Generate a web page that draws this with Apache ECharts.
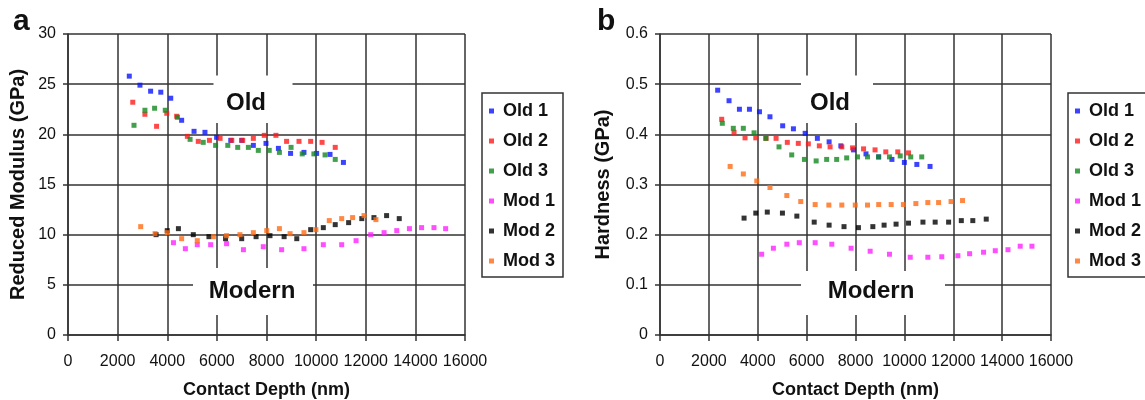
<!DOCTYPE html>
<html>
<head>
<meta charset="utf-8">
<script src="https://cdn.jsdelivr.net/npm/echarts@6/dist/echarts.min.js"></script>
<style>html,body{margin:0;padding:0;background:#fff}#c{width:1145px;height:400px}</style>
</head>
<body>
<div id="c"></div>
<script>
// ---- data (Contact depth in nm) ----
var seriesNames = ['Old 1', 'Old 2', 'Old 3', 'Mod 1', 'Mod 2', 'Mod 3'];
var xTicks = [0, 2000, 4000, 6000, 8000, 10000, 12000, 14000, 16000];

// panel a: reduced modulus (GPa)
var aOld1 = [[2470,25.8],[2900,24.9],[3330,24.3],[3740,24.2],[4140,23.6],[4580,21.4],[5080,20.3],[5520,20.2],[5990,19.7],[6560,19.4],[7000,19.4],[7470,18.9],[7980,19.1],[8480,18.6],[8970,18.1],[9510,18.2],[10020,18.1],[10560,18.0],[11100,17.2]];
var aOld2 = [[2610,23.2],[3100,22.0],[3570,20.8],[3980,22.1],[4380,21.8],[4810,19.8],[5250,19.3],[5700,19.4],[6130,19.6],[6600,19.4],[7040,19.4],[7470,19.6],[7910,19.9],[8380,19.9],[8810,19.3],[9310,19.3],[9780,19.3],[10240,19.2],[10770,18.7]];
var aOld3 = [[2660,20.9],[3100,22.4],[3490,22.6],[3920,22.4],[4410,21.7],[4920,19.5],[5450,19.2],[5950,18.9],[6440,18.9],[6840,18.7],[7270,18.7],[7670,18.4],[8110,18.4],[8520,18.2],[8990,18.7],[9440,18.05],[9910,18.05],[10360,17.95],[10770,17.5]];
var aMod1 = [[4250,9.2],[4730,8.6],[5210,9.0],[5750,9.0],[6390,9.1],[7070,8.5],[7870,8.8],[8610,8.5],[9510,8.6],[10290,9.0],[11030,9.0],[11610,9.4],[12200,10.0],[12740,10.2],[13250,10.4],[13760,10.6],[14250,10.7],[14750,10.7],[15220,10.6]];
var aMod2 = [[3550,10.0],[4000,10.4],[4450,10.6],[5050,10.0],[5680,9.8],[6350,9.6],[7000,9.6],[7580,9.8],[8140,9.9],[8710,9.8],[9220,9.6],[9780,10.5],[10290,10.7],[10770,11.0],[11310,11.2],[11840,11.6],[12330,11.7],[12840,11.9],[13350,11.6]];
var aMod3 = [[2930,10.8],[3510,10.1],[4000,10.2],[4580,9.6],[5210,9.4],[5860,9.8],[6390,9.9],[6930,10.0],[7470,10.2],[8010,10.4],[8520,10.6],[8950,10.1],[9510,10.2],[9990,10.5],[10530,11.4],[11030,11.6],[11470,11.7],[11930,11.9],[12410,11.5]];

// panel b: hardness (GPa)
var bOld1 = [[2360,0.488],[2825,0.467],[3250,0.450],[3660,0.450],[4070,0.445],[4500,0.435],[5020,0.417],[5460,0.411],[5940,0.402],[6440,0.392],[6920,0.385],[7400,0.377],[7920,0.369],[8430,0.361],[8950,0.355],[9490,0.350],[10000,0.344],[10510,0.340],[11050,0.336]];
var bOld2 = [[2525,0.430],[3030,0.404],[3480,0.393],[3920,0.393],[4340,0.392],[4750,0.392],[5210,0.384],[5660,0.382],[6070,0.381],[6520,0.377],[6960,0.375],[7440,0.375],[7880,0.373],[8330,0.371],[8800,0.369],[9240,0.365],[9730,0.365],[10170,0.363]];
var bOld3 = [[2550,0.422],[3000,0.412],[3410,0.412],[3850,0.403],[4330,0.392],[4870,0.375],[5390,0.359],[5910,0.350],[6390,0.347],[6820,0.350],[7230,0.350],[7640,0.353],[8080,0.355],[8490,0.355],[8940,0.355],[9390,0.355],[9830,0.357],[10260,0.355],[10710,0.355]];
var bMod1 = [[4160,0.161],[4640,0.173],[5190,0.181],[5700,0.184],[6350,0.184],[7030,0.181],[7820,0.173],[8600,0.167],[9390,0.161],[10240,0.155],[10960,0.155],[11530,0.156],[12190,0.158],[12670,0.162],[13240,0.165],[13720,0.168],[14240,0.170],[14740,0.177],[15220,0.177]];
var bMod2 = [[3440,0.233],[3920,0.243],[4390,0.245],[5010,0.243],[5600,0.237],[6310,0.225],[6920,0.219],[7530,0.216],[8120,0.214],[8710,0.216],[9170,0.219],[9660,0.221],[10170,0.223],[10760,0.225],[11260,0.225],[11810,0.225],[12330,0.228],[12800,0.228],[13350,0.231]];
var bMod3 = [[2870,0.336],[3410,0.321],[3960,0.307],[4500,0.294],[5190,0.278],[5760,0.266],[6350,0.260],[6910,0.259],[7440,0.259],[7990,0.259],[8490,0.259],[8950,0.260],[9460,0.260],[9960,0.260],[10470,0.262],[10960,0.264],[11400,0.264],[11910,0.266],[12380,0.268]];

var colors = ['#0a14ff', '#ff1a1a', '#13881f', '#ff22ff', '#000000', '#ff6a13'];
var panelA = [aOld1, aOld2, aOld3, aMod1, aMod2, aMod3];
var panelB = [bOld1, bOld2, bOld3, bMod1, bMod2, bMod3];

// ---- styling ----
var LINE = '#333';
var SANS = '"Liberation Sans", Arial, Helvetica, sans-serif';

function xAxis(idx) {
  return {
    gridIndex: idx, type: 'value', min: xTicks[0], max: xTicks[xTicks.length - 1], interval: xTicks[1] - xTicks[0],
    name: 'Contact Depth (nm)', nameLocation: 'middle', nameGap: 46,
    nameTextStyle: {fontFamily: SANS, fontWeight: 'bold', fontSize: 18, color: '#111'},
    axisLine: {show: true, onZero: false, lineStyle: {color: LINE, width: 1.5}},
    axisTick: {show: true, inside: false, length: 6, lineStyle: {color: LINE, width: 1.5}},
    splitLine: {show: true, lineStyle: {color: LINE, width: 1.5}},
    axisLabel: {fontFamily: SANS, fontSize: 16, color: '#111', margin: 19,
      showMinLabel: true, showMaxLabel: true, hideOverlap: false,
      formatter: function (v) { return String(v); }}
  };
}
function yAxis(idx, max, interval, name, gap, fmt) {
  return {
    gridIndex: idx, type: 'value', min: 0, max: max, interval: interval,
    name: name, nameLocation: 'middle', nameGap: gap, nameRotate: 90,
    nameTextStyle: {fontFamily: SANS, fontWeight: 'bold', fontSize: 20, color: '#111'},
    axisLine: {show: true, onZero: false, lineStyle: {color: LINE, width: 1.5}},
    axisTick: {show: true, inside: false, length: 5, lineStyle: {color: LINE, width: 1.5}},
    splitLine: {show: true, lineStyle: {color: LINE, width: 1.5}},
    axisLabel: {fontFamily: SANS, fontSize: 16, color: '#111', margin: 12, formatter: fmt}
  };
}
function legend(left) {
  return {
    data: seriesNames, orient: 'vertical', left: left, top: 93,
    icon: 'rect', itemWidth: 5, itemHeight: 5, itemGap: 12,
    borderColor: LINE, borderWidth: 1.5, padding: [9, 8, 7, 7],
    selectedMode: false,
    textStyle: {fontFamily: SANS, fontWeight: 'bold', fontSize: 18, color: '#111', lineHeight: 18, padding: [0, 0, 0, 4]}
  };
}

var series = [];
[panelA, panelB].forEach(function (panel, p) {
  panel.forEach(function (data, i) {
    series.push({
      name: seriesNames[i], type: 'scatter', xAxisIndex: p, yAxisIndex: p,
      symbol: 'rect', symbolSize: 5, data: data,
      itemStyle: {color: colors[i]}, emphasis: {disabled: true}, silent: true
    });
  });
});

function whiteBox(x, y, w, h) {
  return {type: 'rect', shape: {x: x, y: y, width: w, height: h}, style: {fill: '#fff'}, z: 100};
}
function label(text, x, y, size) {
  return {type: 'text', x: x, y: y, z: 101,
    style: {text: text, fill: '#111', font: 'bold ' + size + 'px ' + SANS, align: 'center', verticalAlign: 'middle'}};
}

var chart = echarts.init(document.getElementById('c'), null, {renderer: 'canvas'});
chart.setOption({
  animation: false,
  backgroundColor: '#fff',
  grid: [
    {left: 68, top: 34, width: 397, height: 301, containLabel: false, outerBoundsMode: 'none'},
    {left: 660, top: 34, width: 391, height: 301, containLabel: false, outerBoundsMode: 'none'}
  ],
  xAxis: [xAxis(0), xAxis(1)],
  yAxis: [
    yAxis(0, 30, 5, 'Reduced Modulus (GPa)', 40, function (v) { return String(v); }),
    yAxis(1, 0.6, 0.1, 'Hardness (GPa)', 47, function (v) { return v === 0 ? '0' : v.toFixed(1); })
  ],
  legend: [legend(482), legend(1068)],
  series: series,
  graphic: [
    whiteBox(213.5, 75.5, 79, 47.5),
    whiteBox(193, 268, 120, 47),
    whiteBox(801, 75.5, 72, 47.5),
    whiteBox(801, 271, 144, 44),
    label('Old', 246, 103, 24),
    label('Modern', 252, 291, 24),
    label('Old', 830, 103, 24),
    label('Modern', 871, 291.5, 24),
    {type: 'text', x: 13, y: 7, z: 101, style: {text: 'a', fill: '#111', font: 'bold 30px ' + SANS, align: 'left', verticalAlign: 'top'}},
    {type: 'text', x: 597, y: 7, z: 101, style: {text: 'b', fill: '#111', font: 'bold 30px ' + SANS, align: 'left', verticalAlign: 'top'}}
  ]
});
</script>
</body>
</html>
